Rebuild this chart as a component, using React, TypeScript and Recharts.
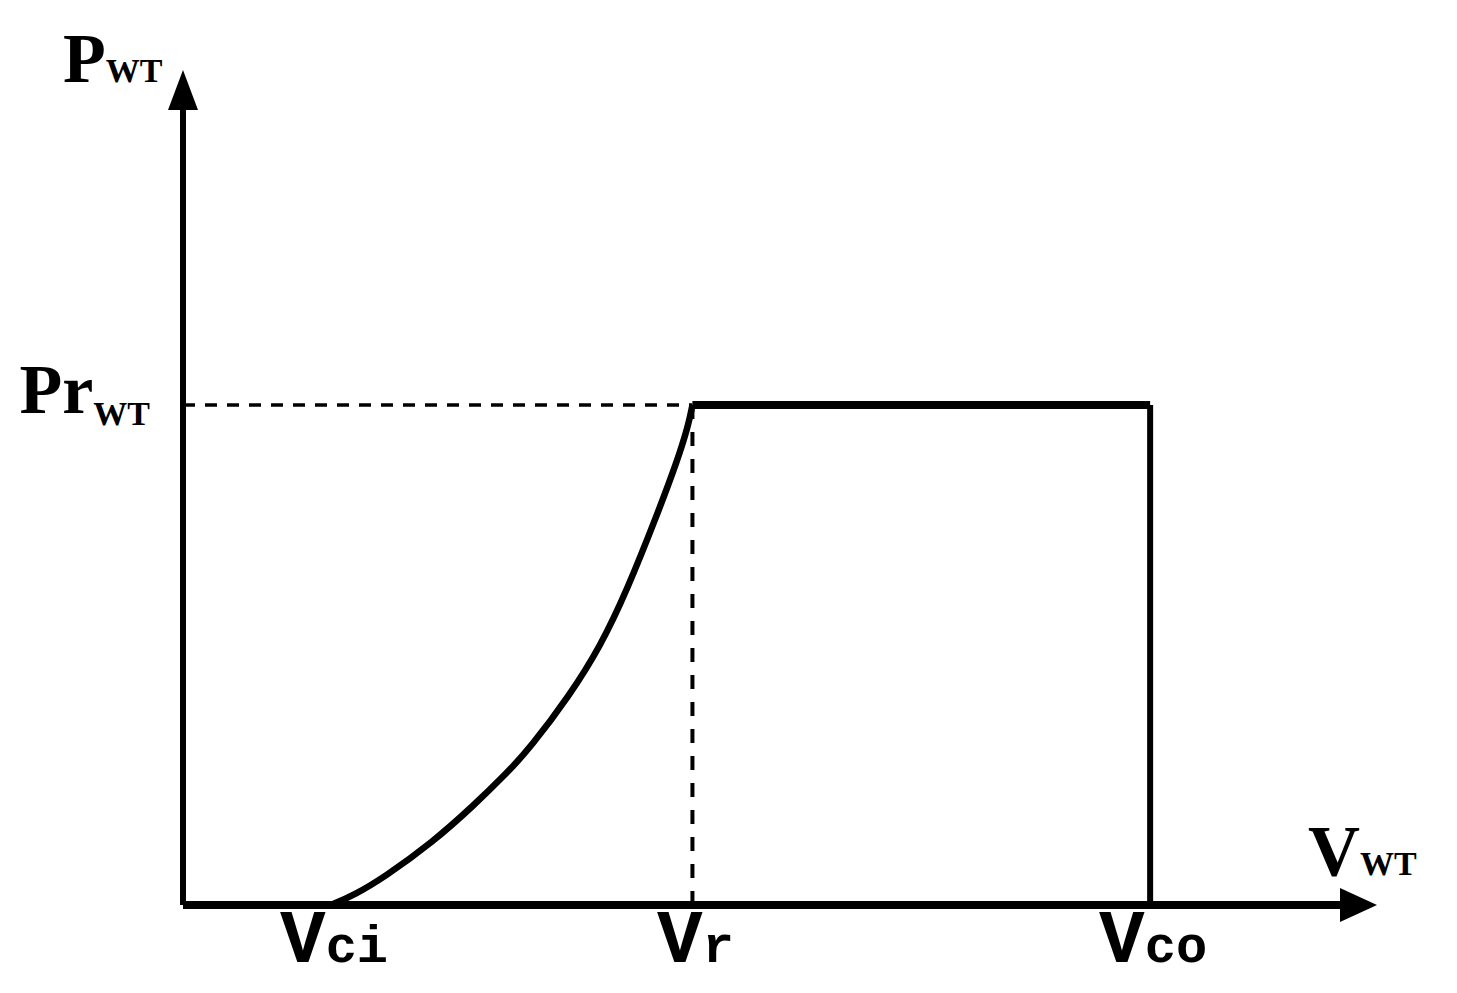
import React from "react";
import { LineChart, Line, XAxis, YAxis, ReferenceLine, ReferenceDot } from "recharts";

// ---- data ----
const VCI = 3.72; // cut-in speed
const VR = 12.8; // rated speed
const VCO = 24.3; // cut-out speed
const PR = 1; // rated power
const X_MAX = 30;
const Y_MAX = 1.67;
const X_ARROW_BASE = 29.07;
const Y_ARROW_BASE = 1.59;

const curveSpeed = [3.72, 4.3, 5.03, 6.28, 7.29, 8.14, 8.72, 9.72, 10.48, 11.16, 11.91, 12.41, 12.7, 12.8];
const curvePower = [0, 0.02, 0.054, 0.126, 0.198, 0.264, 0.314, 0.42, 0.516, 0.63, 0.78, 0.886, 0.96, 1];

const xTicks = [VCI, VR, VCO];
const xTickSubs = ["ci", "r", "co"];

const curveData = curveSpeed.map((x, i) => ({ x, y: curvePower[i] }));
const ratedData = [
  { x: VR, y: PR },
  { x: VCO, y: PR },
];
const cutoutData = [
  { x: VCO, y: PR },
  { x: VCO, y: 0 },
];

const serif = "'Liberation Serif', 'Times New Roman', serif";
const mono = "'Liberation Mono', 'Courier New', monospace";

const XTick = (props: any) => {
  const { x, y, payload } = props;
  const idx = xTicks.indexOf(payload.value);
  return (
    <text x={x + 3} y={y + 49} textAnchor="middle" fontFamily={mono} fontWeight="bold" fill="#000">
      <tspan fontSize={76}>V</tspan>
      <tspan fontSize={52}>{xTickSubs[idx]}</tspan>
    </text>
  );
};

const YTick = (props: any) => {
  const { x, y } = props;
  return (
    <text x={x - 25} y={y + 8} textAnchor="end" fontFamily={serif} fontWeight="bold" fill="#000">
      <tspan fontSize={70}>Pr</tspan>
      <tspan fontSize={34} dy={12}>WT</tspan>
    </text>
  );
};

const TopArrow = (props: any) => {
  const { cx, cy } = props;
  return (
    <g>
      <polygon points={`${cx},${cy} ${cx - 15},${cy + 40} ${cx + 15},${cy + 40}`} fill="#000" />
      <text x={cx - 120} y={cy + 12} fontFamily={serif} fontWeight="bold" fill="#000">
        <tspan fontSize={70}>P</tspan>
        <tspan fontSize={34}>WT</tspan>
      </text>
    </g>
  );
};

const RightArrow = (props: any) => {
  const { cx, cy } = props;
  return (
    <g>
      <polygon points={`${cx},${cy} ${cx - 37},${cy - 17} ${cx - 37},${cy + 17}`} fill="#000" />
      <text x={cx - 69} y={cy - 30} fontFamily={serif} fontWeight="bold" fill="#000">
        <tspan fontSize={72}>V</tspan>
        <tspan fontSize={34}>WT</tspan>
      </text>
    </g>
  );
};

export default function App() {
  return (
    <div style={{ position: "absolute", left: 0, top: 0, background: "#fff" }}>
      <LineChart width={1457} height={993} margin={{ top: 70, right: 80, bottom: 0, left: 0 }}>
        <XAxis
          type="number"
          dataKey="x"
          domain={[0, X_MAX]}
          ticks={xTicks}
          tick={<XTick />}
          tickLine={false}
          axisLine={false}
          height={88}
          interval={0}
          allowDataOverflow
        />
        <YAxis
          type="number"
          dataKey="y"
          domain={[0, Y_MAX]}
          ticks={[PR]}
          tick={<YTick />}
          tickLine={false}
          axisLine={false}
          width={183}
          interval={0}
          allowDataOverflow
        />
        <ReferenceLine
          segment={[{ x: 0, y: PR }, { x: VR, y: PR }]}
          stroke="#000"
          strokeWidth={3.5}
          strokeDasharray="12 10"
          ifOverflow="visible"
        />
        <ReferenceLine
          segment={[{ x: VR, y: 0 }, { x: VR, y: PR }]}
          stroke="#000"
          strokeWidth={4}
          strokeDasharray="14 13"
          ifOverflow="visible"
        />
        <ReferenceLine
          segment={[{ x: 0, y: 0 }, { x: X_ARROW_BASE, y: 0 }]}
          stroke="#000"
          strokeWidth={8}
          ifOverflow="visible"
        />
        <ReferenceLine
          segment={[{ x: 0, y: 0 }, { x: 0, y: Y_ARROW_BASE }]}
          stroke="#000"
          strokeWidth={6}
          ifOverflow="visible"
        />
        <Line
          data={curveData}
          dataKey="y"
          type="basis"
          stroke="#000"
          strokeWidth={6.5}
          dot={false}
          isAnimationActive={false}
        />
        <Line
          data={ratedData}
          dataKey="y"
          type="linear"
          stroke="#000"
          strokeWidth={8}
          dot={false}
          isAnimationActive={false}
        />
        <Line
          data={cutoutData}
          dataKey="y"
          type="linear"
          stroke="#000"
          strokeWidth={6}
          dot={false}
          isAnimationActive={false}
        />
        <ReferenceDot x={0} y={Y_MAX} r={0} shape={<TopArrow />} ifOverflow="visible" />
        <ReferenceDot x={X_MAX} y={0} r={0} shape={<RightArrow />} ifOverflow="visible" />
      </LineChart>
    </div>
  );
}
